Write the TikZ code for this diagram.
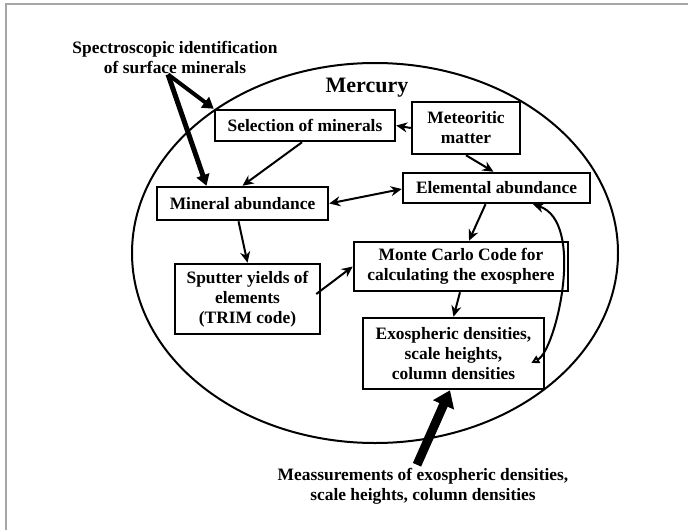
\documentclass[tikz,border=0pt]{standalone}
\usepackage{fontspec}
\setmainfont{Liberation Serif}
\usepackage{tikz}
\usetikzlibrary{arrows.meta,calc}
\tikzset{
  flowbox/.style={draw,line width=2.5pt,align=center,inner sep=0pt,font=\bfseries\fontsize{17.4}{20}\selectfont},
  flowtext/.style={align=center,inner sep=0pt,font=\bfseries\fontsize{17.4}{20}\selectfont},
  flowarrow/.style={-{Stealth[length=11pt,width=10pt]},line width=2pt},
  flowboth/.style={{Stealth[length=11pt,width=10pt]}-{Stealth[length=11pt,width=10pt]},line width=2pt},
  fatarrow/.style={-{Triangle[length=11pt,width=13pt]},line width=5pt},
  framebar/.style={line width=1.5pt,gray!70}
}

\begin{document}
\begin{tikzpicture}[x=1pt,y=-1pt]
  \useasboundingbox (0,0) rectangle (688,530);
  \draw[framebar] (6,530) -- (6,4) -- (688,4);
  \draw[line width=2pt] (375,253) ellipse [x radius=243pt,y radius=190pt];

  \node[flowtext] (spec) at (175,57) {Spectroscopic identification\\of surface minerals};
  \node[flowtext,font=\bfseries\fontsize{22}{26}\selectfont] (merc) at (367,88) {Mercury};
  \node[flowbox,minimum width=180pt,minimum height=31pt] (sel) at (305,125.5) {Selection of minerals};
  \node[flowbox,minimum width=108pt,minimum height=52pt] (met) at (466,128) {Meteoritic\\matter};
  \node[flowbox,minimum width=171pt,minimum height=33pt] (minab) at (242.5,203.5) {Mineral abundance};
  \node[flowbox,minimum width=187pt,minimum height=30pt] (elab) at (496.5,188) {Elemental abundance};
  \node[flowbox,minimum width=214pt,minimum height=49pt] (mc) at (461,266.5) {Monte Carlo Code for\\calculating the exosphere};
  \node[flowbox,minimum width=145pt,minimum height=70pt] (sput) at (247.5,299) {Sputter yields of\\elements\\(TRIM code)};
  \node[flowbox,minimum width=181pt,minimum height=71pt] (exo) at (453.5,353.5) {Exospheric densities,\\scale heights,\\column densities};
  \node[flowtext] (meas) at (423,486) {Meassurements of exospheric densities,\\scale heights, column densities};

  \draw[flowarrow] (met.west) -- (sel.east);
  \draw[flowarrow] (met.south) -- ([xshift=-3pt]elab.north);
  \draw[flowarrow] ([xshift=-3pt]sel.south) -- (minab.north);
  \draw[flowboth] (minab.east) -- ([yshift=-1pt]elab.west);
  \draw[flowarrow] ([xshift=-11pt]elab.south) -- ([xshift=8pt]mc.north);
  \draw[flowarrow] ([xshift=-4pt]minab.south) -- (sput.north);
  \draw[flowarrow] ([xshift=-5pt,yshift=5pt]sput.east) -- (mc.west);
  \draw[flowarrow] ([xshift=-1pt]mc.south) -- (exo.north);
  \draw[flowboth,{Triangle[open,length=8pt,width=8pt]}-{Stealth[length=11pt,width=10pt]}]
    ([xshift=-14pt,yshift=-9.5pt]exo.east) .. controls (556,350) and (586,222) .. ([xshift=36.5pt]elab.south);

  \coordinate (specfoot) at ([xshift=-7pt,yshift=-1pt]spec.south);
  \draw[fatarrow] (specfoot) -- ([xshift=-36pt]minab.north);
  \draw[fatarrow,line width=4pt] (specfoot) -- (sel.north west);
  \draw[fatarrow,line width=9pt,-{Triangle[length=16pt,width=22pt]}] ([xshift=-6pt,yshift=3pt]meas.north) -- ([xshift=-3.5pt]exo.south);
\end{tikzpicture}
\end{document}
